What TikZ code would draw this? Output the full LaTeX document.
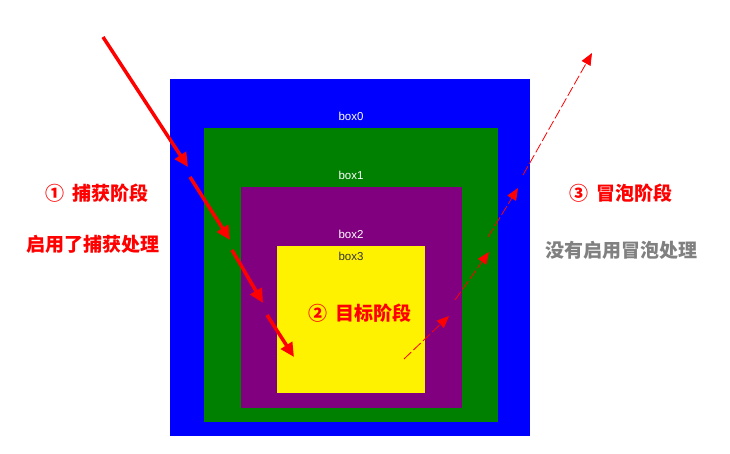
\documentclass[tikz,border=0pt]{standalone}
\usepackage{fontspec}
\setsansfont{Liberation Sans}
\newfontfamily\cjk{Noto Sans CJK SC}
\usetikzlibrary{arrows.meta}
\definecolor{boxgreen}{RGB}{0,128,0}
\definecolor{boxpurple}{RGB}{128,0,128}
\tikzset{
  boxlabel/.style={font=\sffamily\fontsize{11.5}{13}\selectfont, text=white},
  stagetext/.style={font=\cjk\bfseries\fontsize{19}{22}\selectfont, text=red},
  capture/.style={red, line width=3.5pt, -{Triangle[length=14pt,width=13pt]}},
  bubble/.style={red, line width=0.8pt, dash pattern=on 10pt off 3pt,
    -{Triangle[length=12pt,width=10pt]}}
}
\begin{document}
\begin{tikzpicture}[x=1pt,y=-1pt]
  \useasboundingbox (0,0) rectangle (730,454);
  % nested boxes
  \fill[blue] (170,79) rectangle (530,436);
  \fill[boxgreen] (204,128) rectangle (498,422);
  \fill[boxpurple] (241,187) rectangle (462,408);
  \fill[yellow] (277,246) rectangle (425,393);
  \node[boxlabel] (box0) at (351,116) {box0};
  \node[boxlabel] (box1) at (351,175) {box1};
  \node[boxlabel] (box2) at (351,234) {box2};
  \node[boxlabel, text=black!80] (box3) at (351,256) {box3};
  % stages
  \node[stagetext] (capt) at (97,193) {① \ 捕获阶段};
  \node[stagetext] (captnote) at (93,244) {启用了捕获处理};
  \node[stagetext] (target) at (360,313) {② \ 目标阶段};
  \node[stagetext] (bubb) at (621,193) {③ \ 冒泡阶段};
  \node[stagetext, text=gray] (bubbnote) at (621,250) {没有启用冒泡处理};
  % capture path
  \coordinate (c0) at (103,37);
  \coordinate (c1) at (188,167);
  \coordinate (c2) at (190,177);
  \coordinate (c3) at (230,240);
  \coordinate (c4) at (232,250);
  \coordinate (c5) at (263,303);
  \coordinate (c6) at (267,315);
  \coordinate (c7) at (294,357);
  \draw[capture] (c0) -- (c1);
  \draw[capture] (c2) -- (c3);
  \draw[capture] (c4) -- (c5);
  \draw[capture] (c6) -- (c7);
  % bubble path
  \coordinate (b0) at (404,359);
  \coordinate (b1) at (449,316);
  \coordinate (b2) at (455,300);
  \coordinate (b3) at (489,252);
  \coordinate (b4) at (488,237);
  \coordinate (b5) at (518,188);
  \coordinate (b6) at (523,175);
  \coordinate (b7) at (592,53);
  \draw[bubble] (b0) -- (b1);
  \draw[bubble] (b2) -- (b3);
  \draw[bubble] (b4) -- (b5);
  \draw[bubble] (b6) -- (b7);
\end{tikzpicture}
\end{document}
